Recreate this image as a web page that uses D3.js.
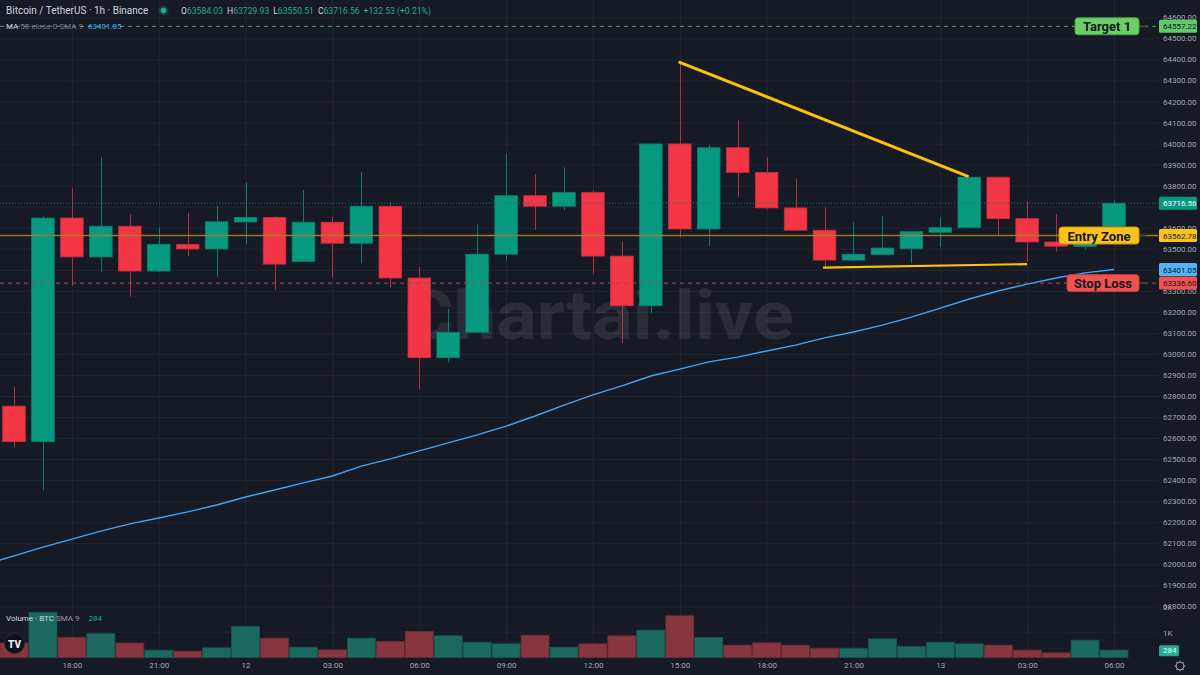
<!DOCTYPE html>
<html><head><meta charset="utf-8">
<script src="https://cdn.jsdelivr.net/npm/d3@7"></script>
<style>
html,body{margin:0;padding:0;background:#161a25;overflow:hidden}
svg{display:block;font-family:Roboto,"Noto Sans",sans-serif}
</style></head><body><svg id="c" width="1200" height="675"></svg>
<script>
// ---------- DATA ----------
const times = ["2024-05-11 16:00","2024-05-11 17:00","2024-05-11 18:00","2024-05-11 19:00","2024-05-11 20:00","2024-05-11 21:00","2024-05-11 22:00","2024-05-11 23:00",
"2024-05-12 00:00","2024-05-12 01:00","2024-05-12 02:00","2024-05-12 03:00","2024-05-12 04:00","2024-05-12 05:00","2024-05-12 06:00","2024-05-12 07:00","2024-05-12 08:00","2024-05-12 09:00","2024-05-12 10:00","2024-05-12 11:00","2024-05-12 12:00","2024-05-12 13:00","2024-05-12 14:00","2024-05-12 15:00","2024-05-12 16:00","2024-05-12 17:00","2024-05-12 18:00","2024-05-12 19:00","2024-05-12 20:00","2024-05-12 21:00","2024-05-12 22:00","2024-05-12 23:00",
"2024-05-13 00:00","2024-05-13 01:00","2024-05-13 02:00","2024-05-13 03:00","2024-05-13 04:00","2024-05-13 05:00","2024-05-13 06:00"];
const opens  = [62752,62583,63646,63461,63607,63394,63521,63499,63627,63649,63440,63626,63526,63702,63361,62982,63103,63474,63752,63702,63768,63465,63229,63998,63594,63980,63863,63694,63588,63446,63472,63500,63578,63600,63840,63643,63532,63511,63605];
const highs  = [62844,63656,63787,63935,63665,63602,63671,63703,63814,63655,63779,63652,63865,63722,63413,63215,63616,63954,63854,63887,63776,63533,64000,64386,63994,64112,63935,63833,63697,63626,63657,63581,63649,63840,63842,63724,63665,63590,63729.93];
const lows   = [62556,62353,63324,63391,63272,63390,63465,63366,63521,63304,63440,63362,63431,63315,62833,62960,63100,63443,63589,63684,63378,63050,63193,63554,63513,63747,63689,63585,63415,63442,63470,63431,63507,63598,63560,63438,63486,63497,63600];
const closes = [62583,63646,63461,63607,63394,63521,63499,63628,63649,63427,63626,63526,63702,63361,62982,63103,63474,63752,63702,63768,63465,63229,63998,63594,63980,63863,63694,63588,63446,63474,63503,63581,63600,63840,63643,63532,63512,63584.03,63716.56];
const volumes = [560,1745,780,920,560,283,245,373,1197,746,399,296,746,618,1004,837,592,528,862,399,528,837,1055,1609,772,476,566,476,360,360,721,425,592,528,476,283,180,669,284];
const maTimes = ["2024-05-11 15:00"].concat(times);
const maValues = [62000,62040,62082,62120,62158,62192,62220,62249,62282,62320,62353,62387,62420,62467,62501,62539,62577,62615,62657,62705,62757,62805,62848,62895,62928,62962,62985,63014,63042,63076,63104,63137,63175,63218,63261,63299,63332,63361,63385,63401.05];
const priceTicks = [64600,64500,64400,64300,64200,64100,64000,63900,63800,63700,63600,63500,63400,63300,63200,63100,63000,62900,62800,62700,62600,62500,62400,62300,62200,62100,62000,61900,61800];
const hiddenTicks = [63700,63400];
const volTicks = [2000,1000];
const volTickLabels = ["2K","1K"];
const xTickTimes = ["2024-05-11 18:00","2024-05-11 21:00","2024-05-12 00:00","2024-05-12 03:00","2024-05-12 06:00","2024-05-12 09:00","2024-05-12 12:00","2024-05-12 15:00","2024-05-12 18:00","2024-05-12 21:00","2024-05-13 00:00","2024-05-13 03:00","2024-05-13 06:00"];
const xTickLabels = ["18:00","21:00","12","03:00","06:00","09:00","12:00","15:00","18:00","21:00","13","03:00","06:00"];
const trendLine = [["2024-05-12 15:00",64386],["2024-05-13 00:56",63845]];
const supportLine = [["2024-05-12 19:57",63410],["2024-05-13 03:00",63427]];
const targetPrice = 64557.22, entryPrice = 63562.78, stopPrice = 63336.60, lastPrice = 63716.56, maLast = 63401.05, lastVolume = 284;
const headerTitle = "Bitcoin / TetherUS · 1h · Binance";
const ohlcLabels = ["O","H","L","C"];
const ohlcValues = ["63584.03","63729.93","63550.51","63716.56"];
const changeText = "+132.53 (+0.21%)";

// ---------- SETUP ----------
const W = 1200, H = 675, plotR = 1158, plotB = 657;
const parse = d3.timeParse("%Y-%m-%d %H:%M");
const svg = d3.select("#c");
const x = d3.scaleTime().domain([parse(times[0]), parse(times[times.length-1])]).range([14, 1114]);
const y = d3.scaleLinear().domain([61800, 64600]).range([606.4, 17.3]);
const vy = d3.scaleLinear().domain([0, 2000]).range([657.5, 605.7]);
const fmt = d3.format(".2f");
const GREEN = "#089981", RED = "#f23645";
const candles = times.map((t,i)=>({t:parse(t),o:opens[i],h:highs[i],l:lows[i],c:closes[i],v:volumes[i]}));

svg.append("rect").attr("width",W).attr("height",H).attr("fill","#161a25");
const defs = svg.append("defs");
defs.append("clipPath").attr("id","plot").append("rect").attr("x",0).attr("y",0).attr("width",plotR).attr("height",plotB+2);

// grid via axes
const gridY = svg.append("g").attr("transform",`translate(${plotR},0)`)
  .call(d3.axisLeft(y).tickValues(priceTicks).tickSize(plotR).tickFormat(""));
gridY.select(".domain").remove();
gridY.selectAll("line").attr("stroke","#222632").attr("stroke-width",1);
const gridV = svg.append("g").attr("transform",`translate(${plotR},0)`)
  .call(d3.axisLeft(vy).tickValues([1000]).tickSize(plotR).tickFormat(""));
gridV.select(".domain").remove();
gridV.selectAll("line").attr("stroke","#222632");
const gridX = svg.append("g").attr("transform",`translate(0,${plotB})`)
  .call(d3.axisTop(x).tickValues(xTickTimes.map(parse)).tickSize(plotB).tickFormat(""));
gridX.select(".domain").remove();
gridX.selectAll("line").attr("stroke","#222632");

// watermark
svg.append("text").attr("x",599).attr("y",339).attr("text-anchor","middle")
  .attr("font-size",68).attr("font-weight",700).attr("fill","rgba(255,255,255,0.085)")
  .attr("textLength",390).attr("lengthAdjust","spacingAndGlyphs").text("Chartai.live");

const plot = svg.append("g").attr("clip-path","url(#plot)");

// volume bars
plot.append("g").selectAll("rect").data(candles).join("rect")
  .attr("x",d=>x(d.t)-14).attr("width",28)
  .attr("y",d=>vy(d.v)).attr("height",d=>vy(0)-vy(d.v))
  .attr("fill",d=>d.c>=d.o?"#1c6a5f":"#87363f")
  .attr("stroke",d=>d.c>=d.o?"#16564d":"#6e2c34").attr("stroke-width",0.8);

// MA line
plot.append("path").datum(maTimes.map((t,i)=>[parse(t),maValues[i]]))
  .attr("fill","none").attr("stroke","#42a5f5").attr("stroke-width",1.4)
  .attr("d",d3.line().x(d=>x(d[0])).y(d=>y(d[1])));

// candles
const cg = plot.append("g");
cg.selectAll("line").data(candles).join("line")
  .attr("x1",d=>Math.round(x(d.t))+0.5).attr("x2",d=>Math.round(x(d.t))+0.5)
  .attr("y1",d=>y(d.h)).attr("y2",d=>y(d.l))
  .attr("stroke",d=>d.c>=d.o?"#0b7a67":"#b02e3e").attr("stroke-width",1);
cg.selectAll("rect").data(candles).join("rect")
  .attr("x",d=>x(d.t)-11.3).attr("width",22.6)
  .attr("y",d=>y(Math.max(d.o,d.c))).attr("height",d=>Math.max(1.5,Math.abs(y(d.o)-y(d.c))))
  .attr("fill",d=>d.c>=d.o?GREEN:RED)
  .attr("stroke",d=>d.c>=d.o?"#07806c":"#c92d3b").attr("stroke-width",0.8);

// horizontal levels
const hl = svg.append("g");
hl.append("line").attr("x1",0).attr("x2",plotR).attr("y1",y(targetPrice)).attr("y2",y(targetPrice))
  .attr("stroke","#4caf50").attr("stroke-dasharray","4,4").attr("stroke-width",1);
hl.append("line").attr("x1",0).attr("x2",plotR).attr("y1",y(entryPrice)).attr("y2",y(entryPrice))
  .attr("stroke","#a5812a").attr("stroke-opacity",0.9).attr("stroke-width",1.6);
hl.append("line").attr("x1",0).attr("x2",plotR).attr("y1",y(stopPrice)).attr("y2",y(stopPrice))
  .attr("stroke","#a7434d").attr("stroke-dasharray","4,4").attr("stroke-width",1);
hl.append("line").attr("x1",0).attr("x2",plotR).attr("y1",y(lastPrice)).attr("y2",y(lastPrice))
  .attr("stroke","#0d7b69").attr("stroke-dasharray","1,2").attr("stroke-width",1);

// drawings
const ln = d3.line().x(d=>x(parse(d[0]))).y(d=>y(d[1]));
svg.append("path").datum(trendLine).attr("d",ln).attr("stroke","#ffc107").attr("stroke-width",3).attr("fill","none").attr("stroke-linecap","round");
svg.append("path").datum(supportLine).attr("d",ln).attr("stroke","#ffc107").attr("stroke-width",2.2).attr("fill","none");

// level labels
function tag(xl, xr, price, label, fill, stroke){
  const yc = y(price);
  svg.append("line").attr("x1",xr).attr("x2",xr+7).attr("y1",yc).attr("y2",yc).attr("stroke","#4a3d18").attr("stroke-width",2);
  svg.append("rect").attr("x",xl).attr("y",yc-8.5).attr("width",xr-xl).attr("height",17).attr("rx",3)
    .attr("fill",fill).attr("stroke",stroke).attr("stroke-width",1);
  svg.append("text").attr("x",(xl+xr)/2).attr("y",yc+0.5).attr("text-anchor","middle").attr("dominant-baseline","central")
    .attr("font-size",13).attr("font-weight",700).attr("fill","#131722").text(label);
}
tag(1075,1139,targetPrice,"Target 1","#6ccf6a","#4a9a45");
tag(1059,1139,entryPrice,"Entry Zone","#fbc21a","#c99406");
tag(1067,1139,stopPrice,"Stop Loss","#ef5350","#c23a41");

// price axis (ticks fully covered by price boxes in the reference are not shown)
const ax = svg.append("g").attr("transform",`translate(${plotR},0)`)
  .call(d3.axisRight(y).tickValues(priceTicks.filter(p=>!hiddenTicks.includes(p))).tickSize(0).tickPadding(5).tickFormat(fmt));
ax.select(".domain").remove();
ax.selectAll("text").attr("fill","#a3a6af").attr("font-size",8).attr("font-family","Roboto,sans-serif");
const vax = svg.append("g").attr("transform",`translate(${plotR},1.5)`)
  .call(d3.axisRight(vy).tickValues(volTicks).tickSize(0).tickPadding(5).tickFormat((d,i)=>volTickLabels[i]));
vax.select(".domain").remove();
vax.selectAll("text").attr("fill","#a3a6af").attr("font-size",8).attr("font-family","Roboto,sans-serif");

function priceBox(yc, txt, fill, color){
  svg.append("rect").attr("x",1159).attr("y",yc-6.5).attr("width",38).attr("height",13).attr("rx",1.5).attr("fill",fill);
  svg.append("text").attr("x",1163).attr("y",yc+0.5).attr("dominant-baseline","central").attr("font-size",8)
    .attr("fill",color).text(txt);
}
priceBox(y(targetPrice), fmt(targetPrice), "#62c96a", "#131722");
priceBox(y(lastPrice), fmt(lastPrice), "#089981", "#ffffff");
priceBox(y(entryPrice), fmt(entryPrice), "#fbc21a", "#131722");
priceBox(y(maLast), fmt(maLast), "#4fb3f6", "#131722");
priceBox(y(stopPrice), fmt(stopPrice), "#ef5350", "#131722");
svg.append("rect").attr("x",1159).attr("y",vy(lastVolume)-5).attr("width",20).attr("height",11).attr("rx",1.5).attr("fill","#22ab94");
svg.append("text").attr("x",1163).attr("y",vy(lastVolume)+0.5).attr("dominant-baseline","central").attr("font-size",8).attr("fill","#fff").text(lastVolume);

// time axis
const xa = svg.append("g").attr("transform",`translate(0,${plotB})`)
  .call(d3.axisBottom(x).tickValues(xTickTimes.map(parse)).tickSize(0).tickPadding(5).tickFormat((d,i)=>xTickLabels[i]));
xa.select(".domain").remove();
xa.selectAll("text").attr("fill","#a3a6af").attr("font-size",8).attr("font-family","Roboto,sans-serif");

// gear icon
const gear = svg.append("g").attr("transform","translate(1180,666)");
d3.range(8).forEach(k=>{const a=k*Math.PI/4;gear.append("line").attr("x1",Math.cos(a)*3.5).attr("y1",Math.sin(a)*3.5).attr("x2",Math.cos(a)*5.2).attr("y2",Math.sin(a)*5.2).attr("stroke","#9598a1").attr("stroke-width",1.3);});
gear.append("circle").attr("r",3.8).attr("fill","none").attr("stroke","#9598a1").attr("stroke-width",1.1);

// TV logo
svg.append("circle").attr("cx",14.5).attr("cy",643.5).attr("r",10).attr("fill","#0e1016").attr("stroke","#2a2e39");
svg.append("text").attr("x",14.5).attr("y",644).attr("text-anchor","middle").attr("dominant-baseline","central")
  .attr("font-size",10).attr("font-weight",900).attr("fill","#e8e8e8").text("TV");

// header
svg.append("text").attr("x",6).attr("y",10.5).attr("dominant-baseline","central").attr("font-size",10).attr("fill","#d1d4dc").text(headerTitle);
svg.append("circle").attr("cx",163.5).attr("cy",10.5).attr("r",5).attr("fill","rgba(8,153,129,0.3)");
svg.append("circle").attr("cx",163.5).attr("cy",10.5).attr("r",2.8).attr("fill","#22ab94");
const oh = svg.append("text").attr("x",181).attr("y",10.5).attr("dominant-baseline","central").attr("font-size",8.6);
ohlcLabels.forEach((l,i)=>{
  oh.append("tspan").attr("fill","#d1d4dc").attr("dx",i?4:0).text(l);
  oh.append("tspan").attr("fill","#22ab94").text(ohlcValues[i]);
});
oh.append("tspan").attr("fill","#22ab94").attr("dx",4).text(changeText);

const ma = svg.append("text").attr("x",6).attr("y",25.5).attr("dominant-baseline","central").attr("font-size",8);
ma.append("tspan").attr("fill","#d1d4dc").text("MA ");
ma.append("tspan").attr("fill","#787b86").text("50-close-0-SMA 9");
ma.append("tspan").attr("fill","#42a5f5").attr("dx",5).text(fmt(maLast));

const vl = svg.append("text").attr("x",6).attr("y",617.5).attr("dominant-baseline","central").attr("font-size",8);
vl.append("tspan").attr("fill","#d1d4dc").text("Volume · BTC ");
vl.append("tspan").attr("fill","#9598a1").text("SMA 9");
vl.append("tspan").attr("fill","#22ab94").attr("dx",9).text(lastVolume);
</script></body></html>
